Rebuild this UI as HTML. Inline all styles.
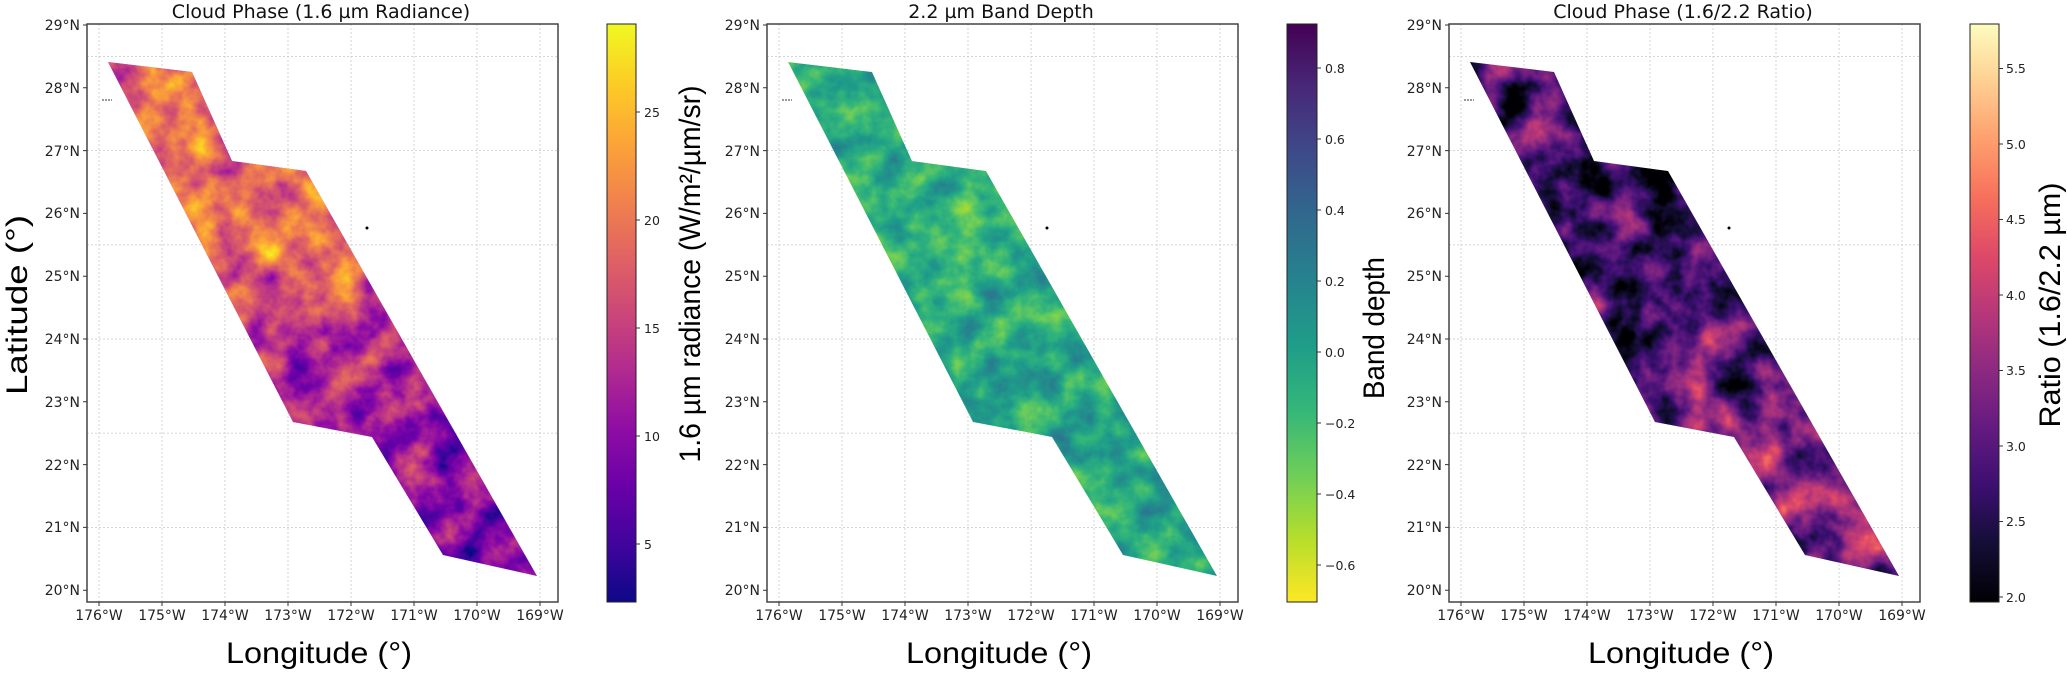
<!DOCTYPE html>
<html><head><meta charset="utf-8"><style>
html,body{margin:0;padding:0;background:#fff;}
svg{display:block;}
.tk{font-family:"DejaVu Sans",sans-serif;font-size:14px;fill:#222;}
.cb{font-family:"DejaVu Sans",sans-serif;font-size:12.5px;fill:#222;}
.ti{font-family:"DejaVu Sans",sans-serif;font-size:19px;fill:#111;}
.big{font-family:"Liberation Sans",sans-serif;font-size:30px;fill:#000;}
</style></head><body>
<svg width="2067" height="673" viewBox="0 0 2067 673" xmlns="http://www.w3.org/2000/svg">
<defs>
<linearGradient id="cPlasma" x1="0" y1="1" x2="0" y2="0">
<stop offset="0" stop-color="#0d0887"/><stop offset="0.1" stop-color="#41049d"/><stop offset="0.2" stop-color="#6a00a8"/><stop offset="0.3" stop-color="#8f0da4"/><stop offset="0.4" stop-color="#b12a90"/><stop offset="0.5" stop-color="#cc4778"/><stop offset="0.6" stop-color="#e16462"/><stop offset="0.7" stop-color="#f2844b"/><stop offset="0.8" stop-color="#fca636"/><stop offset="0.9" stop-color="#fcce25"/><stop offset="1" stop-color="#f0f921"/>
</linearGradient>
<linearGradient id="cVir" x1="0" y1="0" x2="0" y2="1">
<stop offset="0" stop-color="#440154"/><stop offset="0.11" stop-color="#482878"/><stop offset="0.22" stop-color="#3e4989"/><stop offset="0.33" stop-color="#31688e"/><stop offset="0.44" stop-color="#26828e"/><stop offset="0.56" stop-color="#1f9e89"/><stop offset="0.67" stop-color="#35b779"/><stop offset="0.78" stop-color="#6ece58"/><stop offset="0.89" stop-color="#b5de2b"/><stop offset="1" stop-color="#fde725"/>
</linearGradient>
<linearGradient id="cMagma" x1="0" y1="1" x2="0" y2="0">
<stop offset="0" stop-color="#000004"/><stop offset="0.1" stop-color="#140e36"/><stop offset="0.2" stop-color="#3b0f70"/><stop offset="0.3" stop-color="#641a80"/><stop offset="0.4" stop-color="#8c2981"/><stop offset="0.5" stop-color="#b73779"/><stop offset="0.6" stop-color="#de4968"/><stop offset="0.7" stop-color="#f7705c"/><stop offset="0.8" stop-color="#fe9f6d"/><stop offset="0.9" stop-color="#fecf92"/><stop offset="1" stop-color="#fcfdbf"/>
</linearGradient>

<linearGradient id="g1" gradientUnits="userSpaceOnUse" x1="0" y1="62" x2="0" y2="576">
<stop offset="0" stop-color="#9c9c9c"/><stop offset="0.37" stop-color="#aaaaaa"/><stop offset="0.52" stop-color="#747474"/><stop offset="0.72" stop-color="#4f4f4f"/><stop offset="1" stop-color="#464646"/>
</linearGradient>
<linearGradient id="g2" gradientUnits="userSpaceOnUse" x1="0" y1="62" x2="0" y2="576">
<stop offset="0" stop-color="#626262"/><stop offset="0.35" stop-color="#5a5a5a"/><stop offset="0.6" stop-color="#6a6a6a"/><stop offset="1" stop-color="#636363"/>
</linearGradient>
<linearGradient id="g3" gradientUnits="userSpaceOnUse" x1="0" y1="62" x2="0" y2="576">
<stop offset="0" stop-color="#3a3a3a"/><stop offset="0.45" stop-color="#2c2c2c"/><stop offset="0.72" stop-color="#5e5e5e"/><stop offset="1" stop-color="#585858"/>
</linearGradient>

<filter id="f1" x="0" y="0" width="1" height="1" color-interpolation-filters="sRGB">
<feTurbulence type="fractalNoise" baseFrequency="0.028" numOctaves="4" seed="7" result="n0"/>
<feColorMatrix in="n0" type="matrix" values="1 0 0 0 0 1 0 0 0 0 1 0 0 0 0 0 0 0 0 1" result="n"/>
<feComposite in="SourceGraphic" in2="n" operator="arithmetic" k1="0" k2="1" k3="0.9" k4="-0.45" result="m"/>
<feComponentTransfer in="m" result="c">
<feFuncR type="table" tableValues="0.051 0.255 0.416 0.561 0.694 0.8 0.882 0.949 0.988 0.988 0.941"/>
<feFuncG type="table" tableValues="0.031 0.016 0 0.051 0.165 0.278 0.392 0.518 0.651 0.808 0.976"/>
<feFuncB type="table" tableValues="0.529 0.616 0.659 0.643 0.565 0.471 0.384 0.294 0.212 0.145 0.129"/>
<feFuncA type="linear" slope="0" intercept="1"/>
</feComponentTransfer>
<feComposite in="c" in2="SourceAlpha" operator="in"/>
</filter>
<filter id="f2" x="0" y="0" width="1" height="1" color-interpolation-filters="sRGB">
<feTurbulence type="fractalNoise" baseFrequency="0.03" numOctaves="4" seed="11" result="n0"/>
<feColorMatrix in="n0" type="matrix" values="1 0 0 0 0 1 0 0 0 0 1 0 0 0 0 0 0 0 0 1" result="n"/>
<feComposite in="SourceGraphic" in2="n" operator="arithmetic" k1="0" k2="1" k3="0.6" k4="-0.3" result="m"/>
<feComponentTransfer in="m" result="c">
<feFuncR type="table" tableValues="0.992 0.71 0.431 0.208 0.122 0.149 0.192 0.243 0.282 0.267"/>
<feFuncG type="table" tableValues="0.906 0.871 0.808 0.718 0.62 0.51 0.408 0.286 0.157 0.004"/>
<feFuncB type="table" tableValues="0.145 0.169 0.345 0.475 0.537 0.557 0.557 0.537 0.471 0.329"/>
<feFuncA type="linear" slope="0" intercept="1"/>
</feComponentTransfer>
<feComposite in="c" in2="SourceAlpha" operator="in"/>
</filter>
<filter id="f3" x="0" y="0" width="1" height="1" color-interpolation-filters="sRGB">
<feTurbulence type="fractalNoise" baseFrequency="0.025" numOctaves="4" seed="3" result="n0"/>
<feColorMatrix in="n0" type="matrix" values="1 0 0 0 0 1 0 0 0 0 1 0 0 0 0 0 0 0 0 1" result="n"/>
<feComposite in="SourceGraphic" in2="n" operator="arithmetic" k1="0" k2="1" k3="1.0" k4="-0.5" result="m"/>
<feComponentTransfer in="m" result="c">
<feFuncR type="table" tableValues="0 0.078 0.231 0.392 0.549 0.718 0.871 0.969 0.996 0.996 0.988"/>
<feFuncG type="table" tableValues="0 0.055 0.059 0.102 0.161 0.216 0.286 0.439 0.624 0.812 0.992"/>
<feFuncB type="table" tableValues="0.016 0.212 0.439 0.502 0.506 0.475 0.408 0.361 0.427 0.573 0.749"/>
<feFuncA type="linear" slope="0" intercept="1"/>
</feComponentTransfer>
<feComposite in="c" in2="SourceAlpha" operator="in"/>
</filter>

<g id="grid" stroke="#cfcfcf" stroke-width="0.9" stroke-dasharray="2,2" fill="none">
<path d="M99 24V602M162 24V602M225 24V602M288 24V602M351 24V602M414 24V602M477 24V602M540 24V602"/>
<path d="M87 56.4H558M87 150.6H558M87 244.8H558M87 339H558M87 433.2H558M87 527.4H558"/>
</g>
<g id="ticks" stroke="#333" stroke-width="1">
<path d="M83 25H87M83 87.8H87M83 150.6H87M83 213.4H87M83 276.2H87M83 339H87M83 401.8H87M83 464.6H87M83 527.4H87M83 590.2H87"/>
<path d="M99 602V606M162 602V606M225 602V606M288 602V606M351 602V606M414 602V606M477 602V606M540 602V606"/>
</g>
<polygon id="swath" points="108,62 192,72 232,161 306,171 537,576 443,555 372,437 293,422"/>
</defs>

<!-- Panel 1 -->
<use href="#grid"/>
<use href="#swath" fill="url(#g1)" filter="url(#f1)"/>
<rect x="87" y="24" width="471" height="578" fill="none" stroke="#444" stroke-width="1.5"/>
<use href="#ticks"/>
<circle cx="367" cy="228" r="1.5" fill="#000"/><path d="M102 100H112" stroke="#333" stroke-width="1" stroke-dasharray="2,1"/>
<text class="ti" x="321" y="18" text-anchor="middle">Cloud Phase (1.6 µm Radiance)</text>

<!-- Panel 2 -->
<g transform="translate(680,0)">
<use href="#grid"/>
<use href="#swath" fill="url(#g2)" filter="url(#f2)"/>
<rect x="87" y="24" width="471" height="578" fill="none" stroke="#444" stroke-width="1.5"/>
<use href="#ticks"/>
<circle cx="367" cy="228" r="1.5" fill="#000"/><path d="M102 100H112" stroke="#333" stroke-width="1" stroke-dasharray="2,1"/>
</g>
<text class="ti" x="1001" y="18" text-anchor="middle">2.2 µm Band Depth</text>

<!-- Panel 3 -->
<g transform="translate(1362,0)">
<use href="#grid"/>
<use href="#swath" fill="url(#g3)" filter="url(#f3)"/>
<rect x="87" y="24" width="471" height="578" fill="none" stroke="#444" stroke-width="1.5"/>
<use href="#ticks"/>
<circle cx="367" cy="228" r="1.5" fill="#000"/><path d="M102 100H112" stroke="#333" stroke-width="1" stroke-dasharray="2,1"/>
</g>
<text class="ti" x="1683" y="18" text-anchor="middle">Cloud Phase (1.6/2.2 Ratio)</text>

<!-- lat labels -->
<g class="tk" text-anchor="end">
<text x="80" y="30">29°N</text><text x="80" y="93">28°N</text><text x="80" y="156">27°N</text><text x="80" y="218">26°N</text><text x="80" y="281">25°N</text><text x="80" y="344">24°N</text><text x="80" y="407">23°N</text><text x="80" y="470">22°N</text><text x="80" y="532">21°N</text><text x="80" y="595">20°N</text>
<text x="760" y="30">29°N</text><text x="760" y="93">28°N</text><text x="760" y="156">27°N</text><text x="760" y="218">26°N</text><text x="760" y="281">25°N</text><text x="760" y="344">24°N</text><text x="760" y="407">23°N</text><text x="760" y="470">22°N</text><text x="760" y="532">21°N</text><text x="760" y="595">20°N</text>
<text x="1442" y="30">29°N</text><text x="1442" y="93">28°N</text><text x="1442" y="156">27°N</text><text x="1442" y="218">26°N</text><text x="1442" y="281">25°N</text><text x="1442" y="344">24°N</text><text x="1442" y="407">23°N</text><text x="1442" y="470">22°N</text><text x="1442" y="532">21°N</text><text x="1442" y="595">20°N</text>
</g>
<!-- lon labels -->
<g class="tk" text-anchor="middle">
<text x="99" y="620">176°W</text><text x="162" y="620">175°W</text><text x="225" y="620">174°W</text><text x="288" y="620">173°W</text><text x="351" y="620">172°W</text><text x="414" y="620">171°W</text><text x="477" y="620">170°W</text><text x="540" y="620">169°W</text>
<text x="779" y="620">176°W</text><text x="842" y="620">175°W</text><text x="905" y="620">174°W</text><text x="968" y="620">173°W</text><text x="1031" y="620">172°W</text><text x="1094" y="620">171°W</text><text x="1157" y="620">170°W</text><text x="1220" y="620">169°W</text>
<text x="1461" y="620">176°W</text><text x="1524" y="620">175°W</text><text x="1587" y="620">174°W</text><text x="1650" y="620">173°W</text><text x="1713" y="620">172°W</text><text x="1776" y="620">171°W</text><text x="1839" y="620">170°W</text><text x="1902" y="620">169°W</text>
</g>

<!-- axis labels -->
<text class="big" x="319" y="663" text-anchor="middle" textLength="186" lengthAdjust="spacingAndGlyphs">Longitude (°)</text>
<text class="big" x="999" y="663" text-anchor="middle" textLength="186" lengthAdjust="spacingAndGlyphs">Longitude (°)</text>
<text class="big" x="1681" y="663" text-anchor="middle" textLength="186" lengthAdjust="spacingAndGlyphs">Longitude (°)</text>
<text class="big" transform="translate(27,305) rotate(-90)" text-anchor="middle" textLength="180" lengthAdjust="spacingAndGlyphs">Latitude (°)</text>

<!-- colorbar 1 -->
<rect x="607" y="24" width="29" height="578" fill="url(#cPlasma)" stroke="#222" stroke-width="1"/>
<path d="M636 544H640M636 436H640M636 328H640M636 220H640M636 112H640" stroke="#333"/>
<g class="cb"><text x="644" y="549">5</text><text x="644" y="441">10</text><text x="644" y="333">15</text><text x="644" y="225">20</text><text x="644" y="117">25</text></g>
<text class="big" transform="translate(700,274) rotate(-90)" text-anchor="middle" textLength="377" lengthAdjust="spacingAndGlyphs">1.6 µm radiance (W/m²/µm/sr)</text>

<!-- colorbar 2 -->
<rect x="1287" y="24" width="30" height="578" fill="url(#cVir)" stroke="#222" stroke-width="1"/>
<path d="M1317 68H1321M1317 139H1321M1317 210H1321M1317 281H1321M1317 352H1321M1317 423H1321M1317 494H1321M1317 565H1321" stroke="#333"/>
<g class="cb"><text x="1325" y="73">0.8</text><text x="1325" y="144">0.6</text><text x="1325" y="215">0.4</text><text x="1325" y="286">0.2</text><text x="1325" y="357">0.0</text><text x="1325" y="428">−0.2</text><text x="1325" y="499">−0.4</text><text x="1325" y="570">−0.6</text></g>
<text class="big" transform="translate(1384,328) rotate(-90)" text-anchor="middle" textLength="142" lengthAdjust="spacingAndGlyphs">Band depth</text>

<!-- colorbar 3 -->
<rect x="1970" y="24" width="29" height="578" fill="url(#cMagma)" stroke="#222" stroke-width="1"/>
<path d="M1999 597H2003M1999 521.5H2003M1999 446H2003M1999 370.5H2003M1999 295H2003M1999 219.5H2003M1999 144H2003M1999 68.5H2003" stroke="#333"/>
<g class="cb"><text x="2006" y="602">2.0</text><text x="2006" y="526">2.5</text><text x="2006" y="451">3.0</text><text x="2006" y="375">3.5</text><text x="2006" y="300">4.0</text><text x="2006" y="224">4.5</text><text x="2006" y="149">5.0</text><text x="2006" y="73">5.5</text></g>
<text class="big" transform="translate(2060,305) rotate(-90)" text-anchor="middle" textLength="245" lengthAdjust="spacingAndGlyphs">Ratio (1.6/2.2 µm)</text>
</svg>
</body></html>
